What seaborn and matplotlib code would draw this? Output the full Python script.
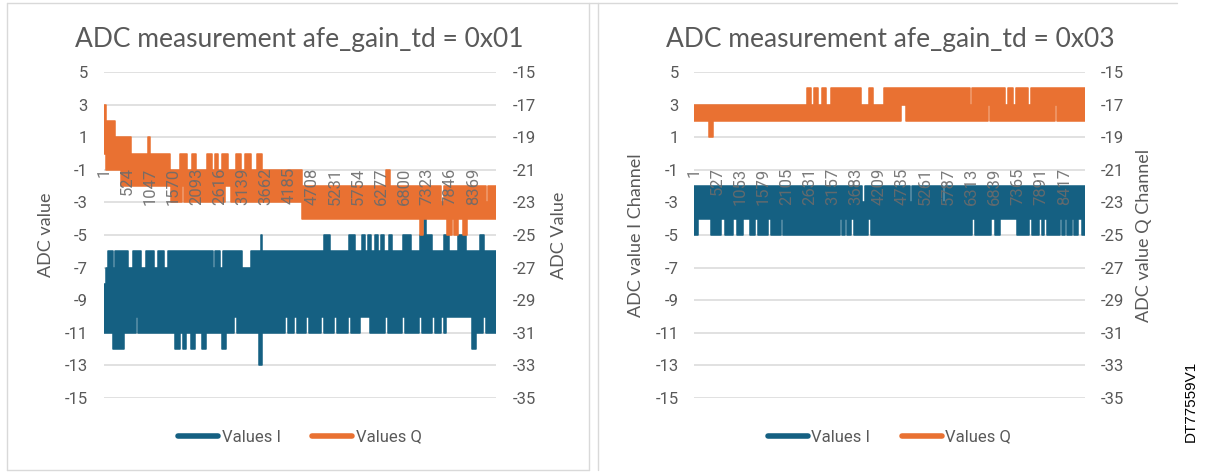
import numpy as np
import pandas as pd
import matplotlib
matplotlib.use("Agg")
import matplotlib.pyplot as plt
import seaborn as sns
from matplotlib.lines import Line2D
from matplotlib import font_manager

# ---------------------------------------------------------------------------
# Captured ADC codes. Each channel toggles between two codes inside a stretch;
# every stretch is given by its first sample and the code range it covers.
# ---------------------------------------------------------------------------
N_01 = 8880
N_03 = 8890

# afe_gain_td = 0x01, I channel (left axis)
I01_TOP_AT = [1, 45, 91, 204, 249, 544, 657, 838, 951, 1133, 1223, 1359, 1450,
              2469, 2514, 2627, 2695, 3126, 3330, 3556, 3590, 4983, 5119, 5549,
              5685, 5844, 5912, 5980, 6048, 6138, 6206, 6274, 6342, 6455, 6523,
              6772, 6954, 7157, 7248, 7293, 7429, 7701, 7814, 8018, 8199, 8516,
              8607]
I01_TOP = [-8, -7, -6, -7, -6, -7, -6, -7, -6, -7, -6, -7, -6,
           -7, -6, -7, -6, -7, -6, -5, -6, -5, -6, -5,
           -6, -5, -6, -5, -6, -5, -6, -5, -6, -5, -6,
           -5, -6, -5, -4, -5, -6, -5, -6, -5, -6, -5,
           -6]
I01_BOT_AT = [1, 204, 453, 725, 770, 1608, 1721, 1789, 1857, 1971, 2061, 2220,
              2310, 2673, 2763, 2944, 3012, 3511, 3579, 4100, 4168, 4304, 4371,
              4575, 4643, 4915, 4983, 5210, 5277, 5527, 5595, 5798, 6025, 6365,
              6433, 6750, 6818, 7135, 7203, 7429, 7497, 7633, 7701, 7746, 8335,
              8426, 8584, 8652]
I01_BOT = [-11, -12, -11, -10, -11, -12, -11, -12, -11, -12, -11, -12,
           -11, -12, -11, -10, -11, -13, -11, -10, -11, -10, -11,
           -10, -11, -10, -11, -10, -11, -10, -11, -10, -11, -10,
           -11, -10, -11, -10, -11, -10, -11, -10, -11, -10, -12,
           -11, -10, -11]

# afe_gain_td = 0x01, Q channel (right axis)
Q01_TOP_AT = [1, 45, 249, 612, 997, 1042, 1495, 1721, 1880, 1993, 2084, 2333,
              2446, 2514, 2582, 2673, 2809, 2990, 3103, 3194, 3330, 3465, 3579,
              4485, 6387, 6478, 7633, 7701, 8652, 8698]
Q01_TOP = [-17, -18, -19, -20, -19, -20, -21, -20, -21, -20, -21, -20,
           -21, -20, -21, -20, -21, -20, -21, -20, -21, -20, -21,
           -22, -21, -22, -23, -22, -23, -22]
Q01_BOT_AT = [1, 45, 385, 1518, 1767, 1812, 2741, 2877, 4485, 7157, 7225, 7769,
              7882, 7928, 8018, 8131, 8222]
Q01_BOT = [-20, -21, -22, -23, -22, -23, -22, -23, -24, -25, -24, -25,
           -24, -25, -24, -25, -24]

# afe_gain_td = 0x03, I channel (left axis)
I03_TOP_AT = [1, 3820, 3889, 4912, 4957, 5662, 5708]
I03_TOP = [-2, -3, -2, -3, -2, -3, -2]
I03_BOT_AT = [1, 91, 387, 614, 705, 887, 978, 1114, 1273, 1387, 1455, 1683,
              1751, 1978, 2024, 3320, 3366, 3434, 3468, 3570, 3638, 3957, 4025,
              6322, 6390, 6754, 6845, 6958, 7345, 7618, 7686, 7845, 7914, 7959,
              8027, 8323, 8368, 8437, 8482, 8596, 8630, 8732, 8823]
I03_BOT = [-5, -4, -5, -4, -5, -4, -5, -4, -5, -4, -5, -4,
           -5, -4, -5, -4, -5, -4, -5, -4, -5, -4, -5,
           -4, -5, -4, -5, -4, -5, -4, -5, -4, -5, -4,
           -5, -4, -5, -4, -5, -4, -5, -4, -5]

# afe_gain_td = 0x03, Q channel (right axis)
Q03_TOP_AT = [1, 2570, 2661, 2729, 2820, 2911, 3002, 3115, 3798, 3980, 4070,
              4321, 6276, 6322, 7072, 7140, 7254, 7322, 7595, 7663]
Q03_TOP = [-17, -16, -17, -16, -17, -16, -17, -16, -17, -16, -17,
           -16, -17, -16, -17, -16, -17, -16, -17, -16]
Q03_BOT_AT = [1, 341, 432, 4707, 4821, 6686, 6731, 8209, 8255]
Q03_BOT = [-18, -19, -18, -17, -18, -17, -18, -17, -18]

# Category axis labels
X_TICKS_01 = [1, 524, 1047, 1570, 2093, 2616, 3139, 3662, 4185, 4708, 5231,
              5754, 6277, 6800, 7323, 7846, 8369]
X_TICKS_03 = [1, 527, 1053, 1579, 2105, 2631, 3157, 3683, 4209, 4735, 5261,
              5787, 6313, 6839, 7365, 7891, 8417]
Y_TICKS_LEFT = list(range(-15, 6, 2))
Y_TICKS_RIGHT = list(range(-35, -14, 2))

TITLES = ["ADC measurement afe_gain_td = 0x01", "ADC measurement afe_gain_td = 0x03"]
YLABELS_LEFT = ["ADC value", "ADC value I Channel"]
YLABELS_RIGHT = ["ADC Value", "ADC value Q Channel"]
SERIES = ["Values I", "Values Q"]

BLUE = "#156082"
ORANGE = "#E97132"
TEXT = "#595959"
GRID = "#D9D9D9"

# ---------------------------------------------------------------------------
sns.set_theme(style="white")
installed = {f.name for f in font_manager.fontManager.ttflist}


def pick(*names):
    for n in names:
        if n in installed:
            return n
    return "DejaVu Sans"


NARROW = pick("Liberation Sans Narrow", "Roboto", "Lato")
REGULAR = pick("Lato", "Open Sans", "Noto Sans")
ARIAL = pick("Liberation Sans", "DejaVu Sans")
plt.rcParams["font.family"] = [NARROW, "DejaVu Sans"]
plt.rcParams["axes.unicode_minus"] = False

W, H = 1208, 473
fig = plt.figure(figsize=(W / 100, H / 100), dpi=100)
fig.patch.set_facecolor("white")


def box(x0, x1, y_top, y_bot):
    return [x0 / W, 1 - y_bot / H, (x1 - x0) / W, (y_bot - y_top) / H]


def levels_at(at, vals, grid):
    idx = np.searchsorted(np.asarray(at), grid, side="right") - 1
    return np.asarray(vals)[idx]


def draw_channel(ax, n, top_at, top, bot_at, bot, color):
    starts = np.union1d(top_at, bot_at)
    hi = levels_at(top_at, top, starts)
    lo = levels_at(bot_at, bot, starts)
    df = pd.DataFrame({
        "sample": np.append(starts, n).astype(float),
        "top": np.append(hi, hi[-1]),
        "bottom": np.append(lo, lo[-1]),
    })
    ax.fill_between(df["sample"], df["bottom"], df["top"], step="post",
                    color=color, lw=0, zorder=1)
    for col in ("top", "bottom"):
        sns.lineplot(data=df, x="sample", y=col, ax=ax, color=color, lw=1.1,
                     drawstyle="steps-post", estimator=None, sort=False,
                     legend=False, zorder=2)


def panel(x0, x1, n, i_data, q_data, xticks, title, ylab_l, ylab_r,
          title_x, pad_l, pad_r, lab_l, lab_r):
    ax = fig.add_axes(box(x0, x1, 72, 398))
    ax2 = ax.twinx()
    ax.set_axisbelow(True)
    ax2.set_axisbelow(False)

    draw_channel(ax, n, *i_data, BLUE)
    draw_channel(ax2, n, *q_data, ORANGE)

    ax.set_xlim(0.5, n + 0.5)
    ax.set_ylim(-15, 5)
    ax2.set_ylim(-35, -15)
    ax.set_yticks(Y_TICKS_LEFT)
    ax2.set_yticks(Y_TICKS_RIGHT)
    ax.yaxis.grid(True, color=GRID, lw=1.1)
    ax.xaxis.grid(False)
    ax2.grid(False)
    for a in (ax, ax2):
        for s in a.spines.values():
            s.set_visible(False)
        a.set_xlabel("")
    ax.tick_params(axis="y", length=0, pad=pad_l, labelsize=12, labelcolor=TEXT)
    ax2.tick_params(axis="y", length=0, pad=pad_r, labelsize=12, labelcolor=TEXT)

    # category labels sit on the zero line of the left scale, above both series
    ax.tick_params(axis="x", labelbottom=False, length=0)
    ax2.xaxis.set_visible(True)
    ax2.spines["bottom"].set_position(("data", -20))
    ax2.set_xticks(xticks, labels=[str(t) for t in xticks])
    ax2.tick_params(axis="x", length=0, pad=10, labelsize=12,
                    labelrotation=90, labelcolor=(0.42, 0.42, 0.42, 0.9),
                    labelbottom=True)

    width = x1 - x0
    ax.set_ylabel(ylab_l, fontsize=13, color=TEXT, family=[REGULAR, "DejaVu Sans"])
    ax2.set_ylabel(ylab_r, fontsize=13, color=TEXT, family=[REGULAR, "DejaVu Sans"])
    ax.yaxis.set_label_coords(-lab_l / width, 0.5)
    ax2.yaxis.set_label_coords(1 + lab_r / width, 0.5)

    fig.text(title_x / W, 1 - 47 / H, title, ha="center", va="baseline",
             fontsize=19, color=TEXT, family=[REGULAR, "DejaVu Sans"])

    handles = [Line2D([0], [0], color=BLUE, lw=4),
               Line2D([0], [0], color=ORANGE, lw=4)]
    leg = ax.legend(handles, SERIES, loc="center",
                    bbox_to_anchor=(0.5, (398 - 437) / 326), ncol=2,
                    frameon=False, fontsize=12, handlelength=2.4,
                    handletextpad=0.2, columnspacing=1.9)
    for t in leg.get_texts():
        t.set_color(TEXT)
    return ax, ax2


panel(104, 496, N_01, (I01_TOP_AT, I01_TOP, I01_BOT_AT, I01_BOT),
      (Q01_TOP_AT, Q01_TOP, Q01_BOT_AT, Q01_BOT), X_TICKS_01,
      TITLES[0], YLABELS_LEFT[0], YLABELS_RIGHT[0], 299, 11.5, 12, 50, 55)
panel(694, 1085, N_03, (I03_TOP_AT, I03_TOP, I03_BOT_AT, I03_BOT),
      (Q03_TOP_AT, Q03_TOP, Q03_BOT_AT, Q03_BOT), X_TICKS_03,
      TITLES[1], YLABELS_LEFT[1], YLABELS_RIGHT[1], 890, 11, 11.5, 50, 51)

# chart frames
frame = dict(color="#D9D9D9", lw=1.0, transform=fig.transFigure)
fig.add_artist(Line2D([7 / W, 1177 / W], [1 - 3 / H, 1 - 3 / H], **frame))
fig.add_artist(Line2D([7 / W, 7 / W], [1 - 3 / H, 1 - 470 / H], **frame))
fig.add_artist(Line2D([589 / W, 589 / W], [1 - 3 / H, 1 - 470 / H], **frame))
fig.add_artist(Line2D([598 / W, 598 / W], [1 - 3 / H, 1 - 470 / H], **frame))
fig.add_artist(Line2D([7 / W, 589 / W], [1 - 470 / H, 1 - 470 / H], **frame))

fig.text(1191 / W, 1 - 401 / H, "DT77559V1", rotation=90, ha="center",
         va="center", fontsize=11, color="black", family=[ARIAL, "DejaVu Sans"])

fig.savefig("out.png", dpi=100, facecolor="white")
